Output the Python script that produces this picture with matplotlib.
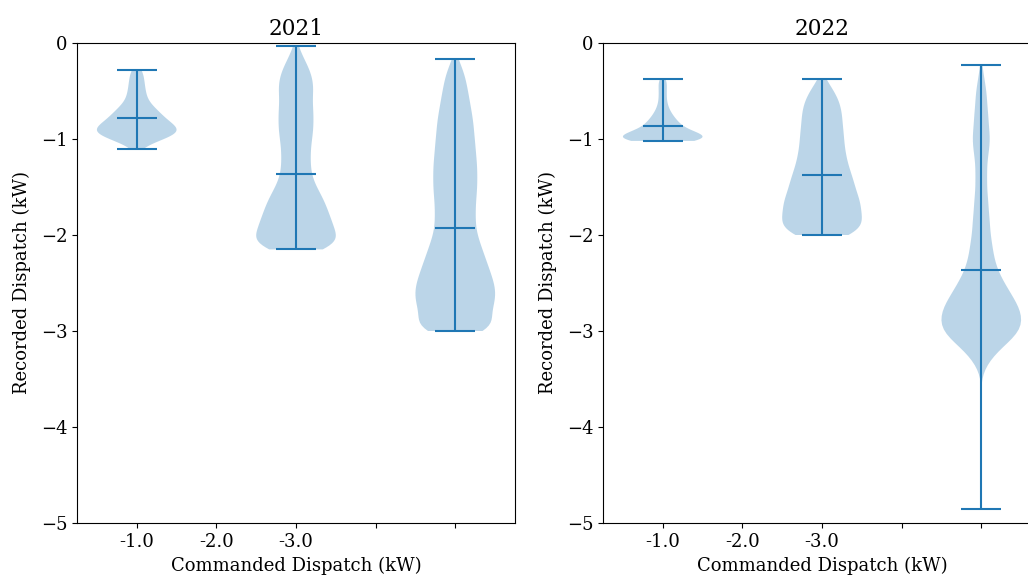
import matplotlib
matplotlib.use("Agg")
import matplotlib.pyplot as plt
import numpy as np

plt.rcParams['font.family'] = 'serif'
plt.rcParams['font.size'] = 13

years = ["2021", "2022"]
tick_labels = ["-1.0", "-2.0", "-3.0", "", ""]

v2021_a = [-0.28, -0.36, -0.46, -0.56, -0.66, -0.74, -0.82, -0.90, -0.97, -1.04, -1.10]
n2021_a = [3, 5, 6, 7, 10, 14, 18, 26, 20, 6, 1]

v2021_b = [-0.03, -0.10, -0.20, -0.30, -0.40, -0.50, -0.60, -0.70, -0.80, -0.90, -1.00,
           -1.10, -1.20, -1.30, -1.40, -1.50, -1.60, -1.70, -1.80, -1.90, -2.00, -2.08, -2.15]
n2021_b = [1, 3, 7, 10, 12, 12, 11, 12, 12, 12, 11,
           10, 10, 10, 11, 14, 18, 21, 23, 26, 26, 22, 18]

v2021_c = [-0.17, -0.25, -0.35, -0.45, -0.55, -0.65, -0.75, -0.85, -0.95, -1.05,
           -1.15, -1.25, -1.35, -1.45, -1.55, -1.65, -1.75, -1.85, -1.95,
           -2.05, -2.15, -2.25, -2.35, -2.45, -2.55, -2.65, -2.75, -2.85, -2.93, -3.00]
n2021_c = [1, 4, 6, 7, 8, 9, 10, 11, 11, 12,
           12, 13, 13, 13, 13, 12, 12, 12, 12,
           14, 16, 18, 20, 22, 24, 24, 23, 18, 17, 20]

v2022_a = [-0.38, -0.42, -0.48, -0.54, -0.60, -0.66, -0.72, -0.78, -0.84, -0.90, -0.95, -0.99, -1.02]
n2022_a = [2, 3, 3, 3, 3, 4, 6, 9, 13, 16, 22, 26, 18]

v2022_b = [-0.38, -0.45, -0.55, -0.65, -0.75, -0.85, -0.95, -1.05, -1.15, -1.25,
           -1.35, -1.45, -1.55, -1.65, -1.75, -1.85, -1.93, -2.00]
n2022_b = [1, 5, 9, 11, 12, 12, 13, 13, 14, 15,
           17, 19, 20, 23, 23, 23, 16, 17]

v2022_c = [-0.23, -0.35, -0.45, -0.55, -0.65, -0.75, -0.85, -0.95, -1.05, -1.15,
           -1.25, -1.35, -1.45, -1.55, -1.65, -1.75, -1.85, -1.95, -2.05, -2.15,
           -2.25, -2.35, -2.45, -2.55, -2.65, -2.75, -2.85, -2.95, -3.05, -3.15,
           -3.25, -3.35, -3.45, -4.85]
n2022_c = [1, 2, 3, 4, 4, 5, 5, 6, 6, 5,
           4, 4, 4, 4, 5, 5, 6, 6, 7, 8,
           9, 11, 14, 18, 22, 26, 28, 28, 24, 16,
           9, 4, 1, 1]

# kernel bandwidth (kW) used for each violin
bw2021 = [0.07, 0.09, 0.10]
bw2022 = [0.05, 0.09, 0.085]

data = {"2021": [(v2021_a, n2021_a), (v2021_b, n2021_b), (v2021_c, n2021_c)],
        "2022": [(v2022_a, n2022_a), (v2022_b, n2022_b), (v2022_c, n2022_c)]}
bws = {"2021": bw2021, "2022": bw2022}

W, H = 1028, 581
fig = plt.figure(figsize=(W / 100, H / 100), dpi=100)
ax_rects = [[77 / W, (H - 523) / H, 438 / W, 480 / H],
            [603 / W, (H - 523) / H, 438 / W, 480 / H]]

for rect, yr in zip(ax_rects, years):
    ax = fig.add_axes(rect)
    for pos, ((vals, cnts), bw) in enumerate(zip(data[yr], bws[yr]), start=1):
        samples = np.repeat(np.asarray(vals, float), cnts)
        factor = bw / np.std(samples, ddof=1)
        parts = ax.violinplot([samples], positions=[pos], showmeans=True,
                              bw_method=factor)
        for body in parts['bodies']:
            body.set_facecolor('C0')
            body.set_alpha(0.3)
        for key in ('cmeans', 'cmins', 'cmaxes', 'cbars'):
            parts[key].set_color('C0')
    ax.set_xlim(0.625, 3.375)
    ax.set_ylim(-5, 0)
    ax.set_xticks([1, 1.5, 2, 2.5, 3])
    ax.set_xticklabels(tick_labels)
    ax.set_title(yr)
    ax.set_xlabel("Commanded Dispatch (kW)")
    ax.set_ylabel("Recorded Dispatch (kW)", labelpad=7)

fig.savefig("out.png", dpi=100)
